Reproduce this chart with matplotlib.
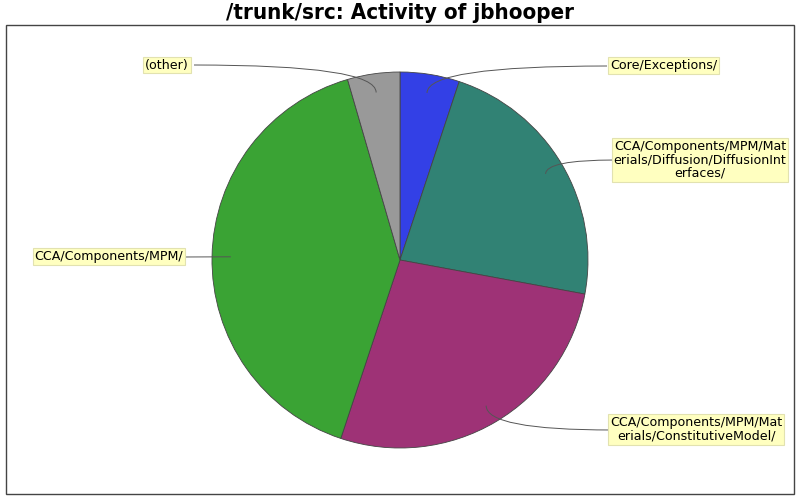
import numpy as np
import matplotlib
matplotlib.use("Agg")
import matplotlib.pyplot as plt
from matplotlib.path import Path
from matplotlib.patches import PathPatch, Rectangle

labels = [
    "Core/Exceptions/",
    "CCA/Components/MPM/Mat\nerials/Diffusion/DiffusionInt\nerfaces/",
    "CCA/Components/MPM/Mat\nerials/ConstitutiveModel/",
    "CCA/Components/MPM/",
    "(other)",
]
values = [5.1, 22.8, 27.2, 40.4, 4.5]
colors = ["#3340E6", "#318274", "#9E3276", "#3AA334", "#999999"]

# label box centers and connector start points (pixel coords, y down)
label_pos = [(663.5, 65.5), (700, 160), (696, 429.5), (109, 256.5), (167, 65)]
line_start = [(607, 66), (615, 160), (612, 430), (183, 257), (194, 65)]

W, H = 800, 500
fig = plt.figure(figsize=(8, 5), dpi=100)
ax = fig.add_axes([0, 0, 1, 1])
cx, cy, R = 400, H - 260, 188

wedges, _ = ax.pie(values, colors=colors, startangle=90, counterclock=False,
                   center=(cx, cy), radius=R,
                   wedgeprops=dict(edgecolor="#444444", linewidth=0.6))
ax.set_xlim(0, W)
ax.set_ylim(0, H)
ax.set_aspect("equal")
ax.axis("off")

ax.add_patch(Rectangle((6, H - 494), 788, 469, fill=False, ec="#444444", lw=1))

total = sum(values)
cum = 0
for i, v in enumerate(values):
    mid = 90 - 360 * (cum + v / 2) / total
    cum += v
    ex = cx + 0.9 * R * np.cos(np.radians(mid))
    ey = cy + 0.9 * R * np.sin(np.radians(mid))
    sx, sy = line_start[i]
    sy = H - sy
    if abs(ey - sy) < 3:
        verts = [(sx, sy), (ex, ey)]
        codes = [Path.MOVETO, Path.LINETO]
    else:
        verts = [(sx, sy), (ex, sy), (ex, ey)]
        codes = [Path.MOVETO, Path.CURVE3, Path.CURVE3]
    ax.add_patch(PathPatch(Path(verts, codes), fill=False, ec="#555555", lw=0.7, zorder=5))
    lx, ly = label_pos[i]
    ax.text(lx, H - ly, labels[i], ha="center", va="center", multialignment="center",
            fontsize=9.1, family="DejaVu Sans", color="black", zorder=6, linespacing=1.05,
            bbox=dict(boxstyle="square,pad=0.15", fc="#FFFFC0", ec="#E2E2B0", lw=0.8))

fig.text(0.5, 1 - 13 / H, "/trunk/src: Activity of jbhooper", ha="center", va="center",
         fontsize=16, fontweight="bold", family="DejaVu Sans", fontstretch="condensed")

fig.savefig("out.png", dpi=100)
